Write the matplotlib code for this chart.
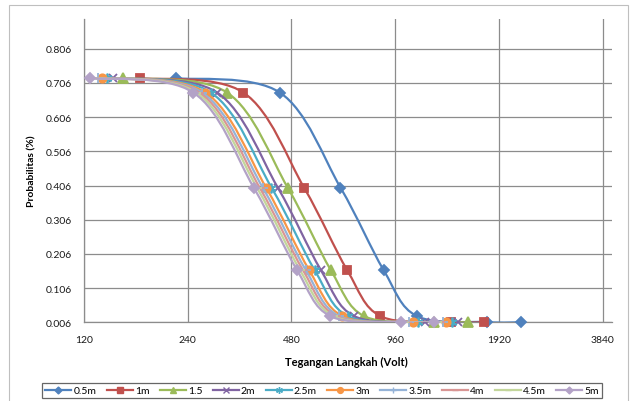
import numpy as np
import matplotlib
matplotlib.use("Agg")
import matplotlib.pyplot as plt
from matplotlib.path import Path
from matplotlib.patches import PathPatch, Rectangle
from matplotlib.lines import Line2D

plt.rcParams['font.family'] = ['Lato', 'DejaVu Sans']

# data
#--------------------------------------
labels = ['0.5m', '1m', '1.5', '2m', '2.5m', '3m', '3.5m', '4m', '4.5m', '5m']

prob = [0.720, 0.678, 0.400, 0.159, 0.024, 0.0065, 0.006]

v_05 = [222, 444, 666, 888, 1110, 1776, 2220]
v_10 = [174, 348, 522, 696, 870, 1392, 1740]
v_15 = [156, 312, 468, 624, 780, 1248, 1560]
v_20 = [146, 292, 438, 584, 730, 1168, 1460]
v_25 = [140, 280, 420, 560, 700, 1120, 1400]
v_30 = [135, 270, 405, 540, 675, 1080, 1350]
v_35 = [132, 264, 396, 528, 660, 1056, 1320]
v_40 = [129.5, 259, 388, 518, 647, 1036, 1295]
v_45 = [127, 254, 381, 508, 635, 1016, 1270]
v_50 = [124.5, 249, 373, 498, 622, 996, 1245]
volts = [v_05, v_10, v_15, v_20, v_25, v_30, v_35, v_40, v_45, v_50]

xticks = [120, 240, 480, 960, 1920, 3840]
yticks = [0.006, 0.106, 0.206, 0.306, 0.406, 0.506, 0.606, 0.706, 0.806]

# styles (excel 2007 defaults)
colors = ['#4F81BD', '#C0504D', '#9BBB59', '#8064A2', '#4BACC6',
          '#F79646', '#95B3D7', '#D99694', '#C3D69B', '#B3A2C7']
markers = ['D', 's', '^', 'x', (6, 2, 0), 'o', '+', '_', '_', 'D']
msizes = [5, 6, 6.5, 6, 7, 6, 7, 7, 7, 5]


def smooth_path(xs, ys):
    # excel-like smoothed line: catmull-rom bezier in log2(x) space
    pts = np.column_stack([np.log2(xs), ys])
    n = len(pts)
    verts = [pts[0]]
    codes = [Path.MOVETO]
    for i in range(n - 1):
        p0 = pts[max(i - 1, 0)]
        p1 = pts[i]
        p2 = pts[i + 1]
        p3 = pts[min(i + 2, n - 1)]
        verts += [p1 + (p2 - p0) / 6.0, p2 - (p3 - p1) / 6.0, p2]
        codes += [Path.CURVE4] * 3
    verts = np.array(verts)
    verts[:, 0] = 2 ** verts[:, 0]
    return Path(verts, codes)


W, H = 637, 402
fig = plt.figure(figsize=(W / 100, H / 100), dpi=100)
fig.patches.append(Rectangle((9 / W, -0.01), 619 / W, 1 - 6 / H + 0.01,
                             transform=fig.transFigure, fill=False,
                             edgecolor='#BFBFBF', lw=0.8))

left, right, top, bottom = 84, 612, 20, 323.3
ax = fig.add_axes([left / W, 1 - bottom / H, (right - left) / W, (bottom - top) / H])
ax.set_xscale('log', base=2)
ax.set_xlim(120, 4087)
ax.set_ylim(0.006, 0.893)

ax.set_xticks(xticks)
ax.set_xticklabels([str(t) for t in xticks])
ax.set_yticks(yticks)
ax.set_yticklabels(['%.3f' % t for t in yticks])
ax.minorticks_off()
ax.tick_params(length=0, labelsize=7.5, colors='#1a1a1a', pad=9)
ax.grid(True, color='#8C8C8C', lw=0.9)
ax.set_axisbelow(True)
for s in ['top', 'right']:
    ax.spines[s].set_visible(False)
for s in ['left', 'bottom']:
    ax.spines[s].set_color('#8C8C8C')
    ax.spines[s].set_linewidth(0.9)

handles = []
for i in range(len(labels)):
    ax.add_patch(PathPatch(smooth_path(volts[i], prob), fill=False,
                           edgecolor=colors[i], lw=1.6, zorder=3 + i * 0.1))
    ax.plot(volts[i], prob, ls='none', marker=markers[i], ms=msizes[i],
            color=colors[i], mew=1.3, zorder=3.05 + i * 0.1, clip_on=False)
    handles.append(Line2D([], [], color=colors[i], lw=1.6, marker=markers[i],
                          ms=msizes[i] * 0.7, mew=1.0))

fig.text(32 / W, 1 - 171 / H, 'Probabilitas (%)', rotation=90, ha='center',
         va='center', fontsize=7.5, fontweight='bold')
fig.text(346 / W, 1 - 362 / H, 'Tegangan Langkah (Volt)', ha='center',
         va='center', fontsize=8, fontweight='bold')

leg = fig.legend(handles, labels, ncol=10, loc='center',
                 bbox_to_anchor=(322 / W, 1 - 391.5 / H), fontsize=7.5,
                 frameon=True, fancybox=False, edgecolor='#404040',
                 handlelength=2.5, columnspacing=1.0, handletextpad=0.2,
                 borderpad=0.3, borderaxespad=0)
leg.get_frame().set_linewidth(0.9)

plt.savefig("out.png", dpi=100)
